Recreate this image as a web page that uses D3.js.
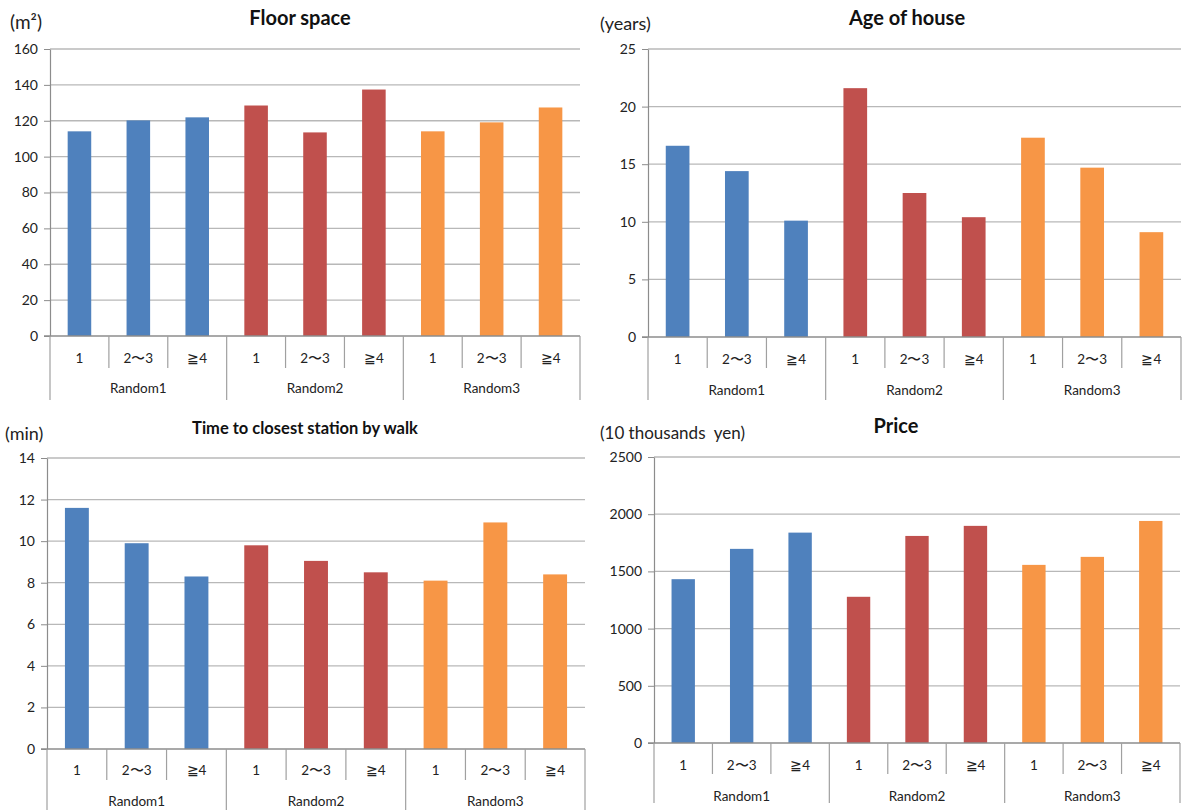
<!DOCTYPE html>
<html><head><meta charset="utf-8">
<script src="https://cdn.jsdelivr.net/npm/d3@7"></script>
<style>
body{margin:0;background:#fff;}
svg{display:block;font-family:Lato,"Open Sans",sans-serif;}
</style></head>
<body>
<svg id="chart" width="1182" height="810"></svg>
<script>
const groups = ["Random1","Random2","Random3"];
const subCats = ["1","2\u301c3","\u22674"];
const groupColors = ["#4f81bd","#c0504d","#f79646"];

const floorSpace = [114.1,120.2,121.9, 128.5,113.5,137.4, 114.1,119.1,127.4];
const ageOfHouse = [16.6,14.4,10.1, 21.6,12.5,10.4, 17.3,14.7,9.1];
const timeToStation = [11.6,9.9,8.3, 9.8,9.05,8.5, 8.1,10.9,8.4];
const price = [1432,1697,1839, 1278,1810,1898, 1557,1627,1941];

const floorTicks = [0,20,40,60,80,100,120,140,160];
const ageTicks = [0,5,10,15,20,25];
const timeTicks = [0,2,4,6,8,10,12,14];
const priceTicks = [0,500,1000,1500,2000,2500];

const svg = d3.select("#chart");

const panels = [
  {title:"Floor space", unit:"(m\u00b2)", values:floorSpace, ticks:floorTicks,
   left:50, right:580, top:49, zero:336, innerBottom:368, labelY:358, groupY:388, bottom:400,
   titleX:300, titleY:25, titleSize:20, unitX:10, unitY:29, unitSize:19},
  {title:"Age of house", unit:"(years)", values:ageOfHouse, ticks:ageTicks,
   left:648, right:1181, top:49, zero:337, innerBottom:368, labelY:359, groupY:390, bottom:400,
   titleX:907, titleY:25, titleSize:20, unitX:600, unitY:30, unitSize:18},
  {title:"Time to closest station by walk", unit:"(min)", values:timeToStation, ticks:timeTicks,
   left:47, right:585, top:458, zero:749, innerBottom:780, labelY:770, groupY:801, bottom:810,
   titleX:305, titleY:434, titleSize:16.5, unitX:5, unitY:440, unitSize:18},
  {title:"Price", unit:"(10 thousands  yen)", values:price, ticks:priceTicks,
   left:654, right:1180, top:457, zero:743, innerBottom:774, labelY:765, groupY:796, bottom:803,
   titleX:896, titleY:433, titleSize:20, unitX:600, unitY:439, unitSize:17}
];

const keys = [];
groups.forEach(g => subCats.forEach(s => keys.push(g + "|" + s)));

panels.forEach(p => {
  const g = svg.append("g");
  const x = d3.scaleBand().domain(keys).range([p.left, p.right]).paddingInner(0.6).paddingOuter(0.3);
  const y = d3.scaleLinear().domain([d3.min(p.ticks), d3.max(p.ticks)]).range([p.zero, p.top]);
  const step = (p.right - p.left) / keys.length;

  // gridlines
  g.append("g").selectAll("line").data(p.ticks.filter(t => t !== 0)).join("line")
    .attr("x1", p.left).attr("x2", p.right)
    .attr("y1", d => y(d)).attr("y2", d => y(d))
    .attr("stroke", "#b8b8b8").attr("stroke-width", 1.3);

  // bars
  g.append("g").selectAll("rect").data(p.values).join("rect")
    .attr("x", (d,i) => x(keys[i]))
    .attr("width", x.bandwidth())
    .attr("y", d => y(d))
    .attr("height", d => y(0) - y(d))
    .attr("fill", (d,i) => groupColors[Math.floor(i / subCats.length)]);

  // y axis
  const ax = d3.axisLeft(y).tickValues(p.ticks).tickFormat(d3.format("d"))
    .tickSize(6).tickSizeOuter(0).tickPadding(6);
  const axG = g.append("g").attr("transform", `translate(${p.left},0)`).call(ax);
  axG.select(".domain").attr("stroke", "#8c8c8c").attr("stroke-width", 1.2);
  axG.selectAll(".tick line").attr("stroke", "#8c8c8c");
  axG.selectAll(".tick text").attr("font-size", 14).attr("fill", "#222")
    .attr("font-family", "Lato, 'Open Sans', sans-serif");

  // zero line
  g.append("line").attr("x1", p.left - 6).attr("x2", p.right)
    .attr("y1", y(0)).attr("y2", y(0)).attr("stroke", "#8c8c8c").attr("stroke-width", 1.3);

  // category separators
  const bounds = d3.range(keys.length + 1);
  g.append("g").selectAll("line").data(bounds).join("line")
    .attr("x1", i => p.left + i * step).attr("x2", i => p.left + i * step)
    .attr("y1", y(0))
    .attr("y2", i => (i % subCats.length === 0) ? p.bottom : p.innerBottom)
    .attr("stroke", "#a0a0a0").attr("stroke-width", 1.2);

  // sub-category labels
  g.append("g").selectAll("text").data(keys).join("text")
    .attr("x", d => x(d) + x.bandwidth() / 2)
    .attr("y", p.labelY).attr("dy", "0.35em")
    .attr("text-anchor", "middle").attr("font-size", 13.5).attr("fill", "#222")
    .text(d => d.split("|")[1]);

  // group labels
  g.append("g").selectAll("text").data(groups).join("text")
    .attr("x", (d,i) => p.left + (i * subCats.length + subCats.length / 2) * step)
    .attr("y", p.groupY).attr("dy", "0.35em")
    .attr("text-anchor", "middle").attr("font-size", 13.5).attr("fill", "#222")
    .text(d => d);

  // title
  g.append("text").attr("x", p.titleX).attr("y", p.titleY)
    .attr("text-anchor", "middle").attr("font-weight", "bold")
    .attr("font-size", p.titleSize).attr("fill", "#111").text(p.title);

  // unit
  g.append("text").attr("x", p.unitX).attr("y", p.unitY)
    .attr("font-size", p.unitSize).attr("fill", "#222")
    .style("white-space","pre").text(p.unit);
});
</script>
</body></html>
